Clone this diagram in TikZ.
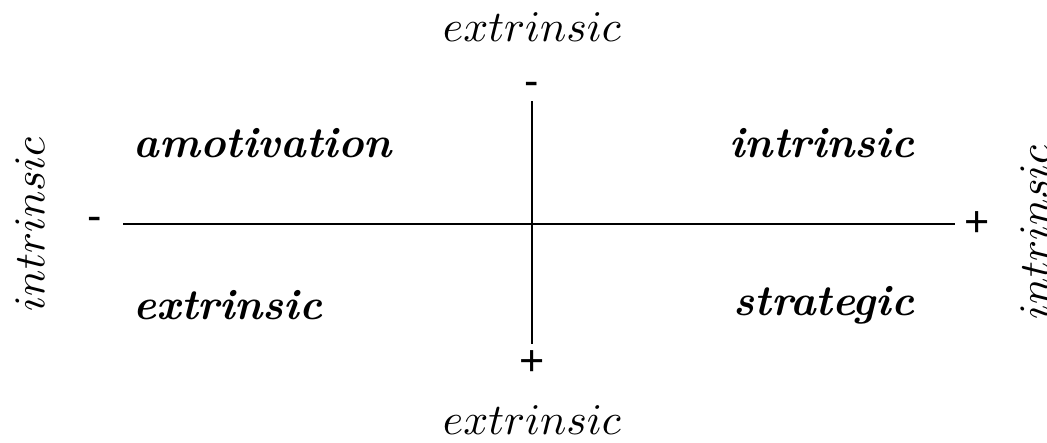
\documentclass[tikz,border=0pt]{standalone}
\usepackage{fontspec}
\newfontfamily\signfont{Liberation Sans}
\begin{document}
\begin{tikzpicture}[x=0.25pt,y=-0.25pt,
  axislbl/.style={font=\fontsize{10.8}{13}\selectfont, inner sep=0pt},
  quad/.style={font=\fontsize{10.8}{13}\selectfont\bfseries\itshape, inner sep=0pt},
  sgn/.style={font=\fontsize{10.8}{13}\selectfont\signfont, inner sep=0pt},
  axisline/.style={line width=0.5pt}]
\useasboundingbox (0,0) rectangle (1047,442);
% axes
\coordinate (axL) at (123,224);
\coordinate (axR) at (955,224);
\coordinate (axT) at (532,101);
\coordinate (axB) at (532,344);
\draw[axisline] (axL) -- (axR);
\draw[axisline] (axT) -- (axB);
% signs
\node[sgn] (sL) at (95,224) {-};
\node[sgn] (sR) at (977,224) {+};
\node[sgn] (sT) at (532,89) {-};
\node[sgn] (sB) at (532,363) {+};
% axis labels
\node[axislbl] (lT) at (532,27) {$extrinsic$};
\node[axislbl] (lB) at (532,420) {$extrinsic$};
\node[axislbl, rotate=90] (lL) at (30,224) {$intrinsic$};
\node[axislbl, rotate=90] (lR) at (1035,232) {$intrinsic$};
% quadrant labels
\node[quad, anchor=west] (qA) at (133,143) {amotivation};
\node[quad, anchor=east] (qI) at (915,143) {intrinsic};
\node[quad, anchor=west] (qE) at (133,305) {extrinsic};
\node[quad, anchor=east] (qS) at (915,305) {strategic};
\end{tikzpicture}
\end{document}
